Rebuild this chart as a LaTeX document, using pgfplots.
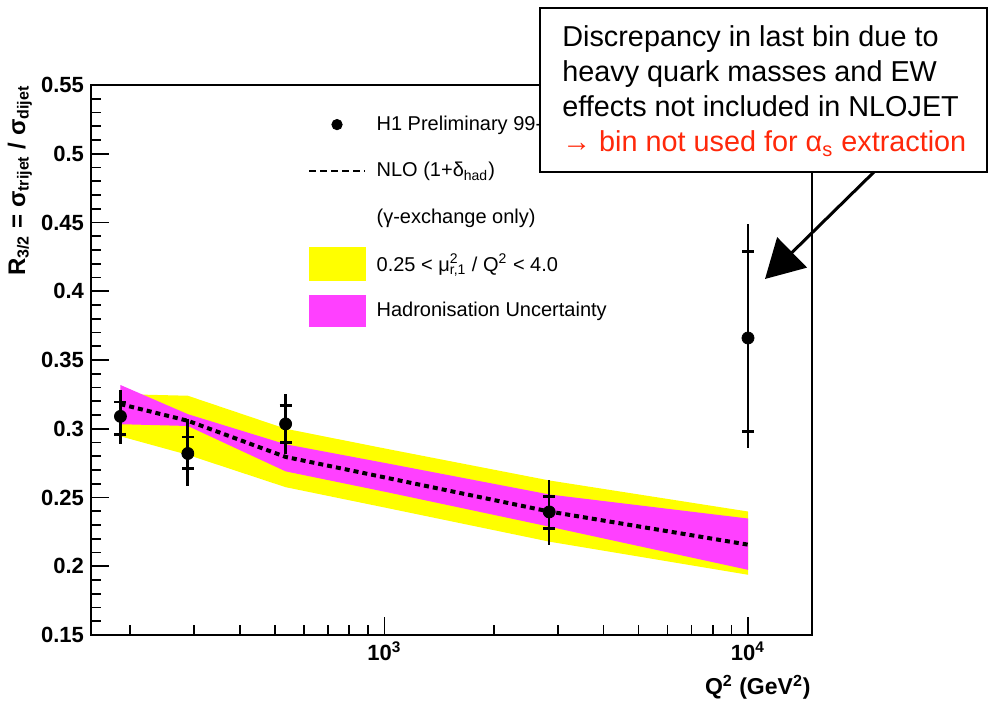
\documentclass[border=0pt]{standalone}
\usepackage{fontspec}
\setmainfont{Liberation Sans}
\usepackage{pgfplots}
\pgfplotsset{compat=1.18}
\usetikzlibrary{arrows.meta}
\definecolor{bandyellow}{RGB}{255,255,0}
\definecolor{bandmagenta}{RGB}{255,64,255}
\definecolor{notered}{RGB}{255,40,10}

\begin{document}
\begin{tikzpicture}[x=1pt,y=1pt]
\path[use as bounding box, fill=white] (0,0) rectangle (494.5,352);
\begin{axis}[
    at={(45.5pt,34.5pt)}, anchor=south west,
    scale only axis, width=360.5pt, height=275pt,
    xmode=log, xmin=156, xmax=15000,
    ymin=0.15, ymax=0.55,
    axis line style={line width=1pt},
    tick align=inside, tick pos=left,
    major tick length=9pt, minor tick length=5pt,
    tick style={line width=0.8pt, black},
    xtick={1000,10000},
    xticklabels={10\textsuperscript{3},10\textsuperscript{4}},
    minor xtick={200,300,400,500,600,700,800,900,2000,3000,4000,5000,6000,7000,8000,9000},
    ytick={0.15,0.2,0.25,0.3,0.35,0.4,0.45,0.5,0.55},
    yticklabels={0.15,0.2,0.25,0.3,0.35,0.4,0.45,0.5,0.55},
    minor y tick num=4,
    ticklabel style={font=\fontsize{11}{13}\selectfont\bfseries},
    legend cell align=left,
    legend style={draw=none, fill=none, inner sep=0pt,
        at={(0.301,0.971)}, anchor=north west,
        font=\fontsize{10}{12}\selectfont,
        row sep=0pt, column sep=5.5pt,
        nodes={inner sep=0pt, minimum height=23.25pt}},
]
% legend entries
\addlegendimage{legend image code/.code={\fill[black] (14pt,0pt) circle (2.6pt);}}
\addlegendentry{H1 Preliminary 99-00}
\addlegendimage{legend image code/.code={\draw[black, line width=0.6pt, dash pattern=on 3.5pt off 2pt] (0pt,0pt) -- (28pt,0pt);}}
\addlegendentry{NLO (1+δ\textsubscript{had})}
\addlegendimage{empty legend}
\addlegendentry{(γ-exchange only)}
\addlegendimage{legend image code/.code={\fill[bandyellow] (0pt,-8.25pt) rectangle (28pt,8.25pt);}}
\addlegendentry{0.25 < μ\rlap{\textsuperscript{2}}\textsubscript{r,1} / Q\textsuperscript{2} < 4.0}
\addlegendimage{legend image code/.code={\fill[bandmagenta] (0pt,-7.75pt) rectangle (28pt,7.75pt);}}
\addlegendentry{Hadronisation Uncertainty}

% scale uncertainty band
\addplot[draw=none, fill=bandyellow, forget plot] coordinates {
    (188,0.3252) (288,0.3240) (535,0.3000) (1032,0.2850) (2840,0.2624) (10000,0.2398)
    (10000,0.1938) (2840,0.2179) (1032,0.2420) (535,0.2575) (288,0.2810) (188,0.2945)
} -- cycle;
% hadronisation band
\addplot[draw=none, fill=bandmagenta, forget plot] coordinates {
    (188,0.3318) (288,0.3106) (535,0.2887) (1032,0.2745) (2840,0.2522) (10000,0.2347)
    (10000,0.1974) (2840,0.2288) (1032,0.2535) (535,0.2690) (288,0.3020) (188,0.3033)
} -- cycle;
% NLO central
\addplot[black, line width=2pt, dash pattern=on 2.5pt off 2pt, forget plot] coordinates {
    (188,0.3179) (288,0.3058) (535,0.2795) (1032,0.2639) (2840,0.2398) (10000,0.2157)
};
% total errors, thick part
\addplot[only marks, mark=none, forget plot,
    error bars/.cd, y dir=both, y explicit, error mark=none,
    error bar style={line width=1.4pt, black}] coordinates {
    (188,0.309) += (0,0.019) -= (0,0.020)
    (288,0.282) += (0,0.025) -= (0,0.024)
    (535,0.3035) += (0,0.0217) -= (0,0.0221)
    (10000,0.366) += (0,0) -= (0,0.080)
};
% total errors, thin part
\addplot[only marks, mark=none, forget plot,
    error bars/.cd, y dir=both, y explicit, error mark=none,
    error bar style={line width=0.9pt, black}] coordinates {
    (2840,0.2395) += (0,0.023) -= (0,0.0238)
    (10000,0.366) += (0,0.083) -= (0,0)
};
% statistical errors (ticks)
\addplot[only marks, mark=none, forget plot,
    error bars/.cd, y dir=both, y explicit, error mark=|,
    error bar style={line width=0.9pt, black},
    error mark options={line width=1.4pt, mark size=3pt, black}] coordinates {
    (188,0.309) += (0,0.0105) -= (0,0.013)
    (288,0.282) += (0,0.012) -= (0,0.011)
    (535,0.3035) += (0,0.0135) -= (0,0.0135)
    (2840,0.2395) += (0,0.011) -= (0,0.012)
    (10000,0.366) += (0,0.063) -= (0,0.068)
};
% data points
\addplot[only marks, mark=*, mark size=3pt, black, forget plot] coordinates {
    (188,0.309) (288,0.282) (535,0.3035) (2840,0.2395) (10000,0.366)
};
\end{axis}

% axis titles
\node[rotate=90, anchor=base east, inner sep=0pt, font=\fontsize{12}{14}\selectfont\bfseries]
    at (12.5,309.5) {R\textsubscript{3/2} = σ\textsubscript{trijet} / σ\textsubscript{dijet}};
\node[anchor=base east, inner sep=0pt, font=\fontsize{11.5}{14}\selectfont\bfseries]
    at (405.5,4.5) {Q\textsuperscript{2} (GeV\textsuperscript{2})};

% annotation box and arrow
\draw[line width=1pt, fill=white] (270,266) rectangle (493.5,348);
\draw[line width=1.5pt, -{Triangle[length=19pt, width=21pt]}] (437,266) -- (382.5,212.5);
\begin{scope}[every node/.style={anchor=base west, inner sep=0pt, font=\fontsize{14.4}{17}\selectfont}]
\node at (281,328.5) {Discrepancy in last bin due to};
\node at (281,311) {heavy quark masses and EW};
\node at (281,293.5) {effects not included in NLOJET};
\node[text=notered] at (281,276) {→ bin not used for α\textsubscript{s} extraction};
\end{scope}
\end{tikzpicture}
\end{document}
